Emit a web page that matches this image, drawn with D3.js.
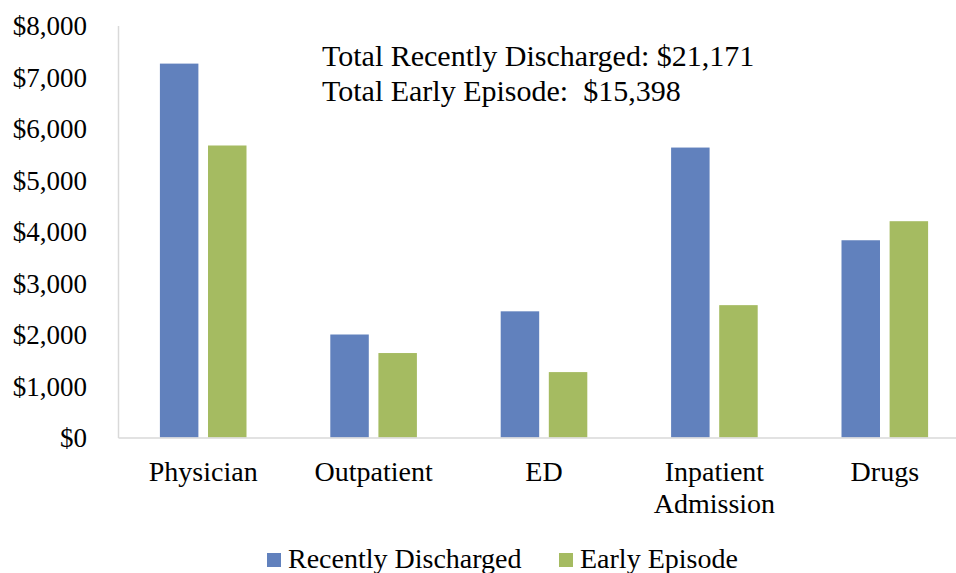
<!DOCTYPE html>
<html>
<head>
<meta charset="utf-8">
<script src="https://cdn.jsdelivr.net/npm/d3@7"></script>
<style>
  body { margin: 0; background: #fff; }
  svg { display: block; font-family: "Liberation Serif", "Times New Roman", serif; }
  .axis path { stroke: #d9d9d9; stroke-width: 1.5; }
  .axis text { fill: #000; font-family: "Liberation Serif", serif; }
</style>
</head>
<body>
<svg width="956" height="573"></svg>
<script>
// データ
const categories = ["Physician", "Outpatient", "ED", "Inpatient Admission", "Drugs"];
const seriesNames = ["Recently Discharged", "Early Episode"];
const recentlyDischarged = [7260, 2000, 2450, 5630, 3830];
const earlyEpisode = [5670, 1640, 1270, 2570, 4200];
const yTicks = [0, 1000, 2000, 3000, 4000, 5000, 6000, 7000, 8000];
const totalRecent = 21171;
const totalEarly = 15398;

const colors = { "Recently Discharged": "#6181bd", "Early Episode": "#a5bb61" };

const width = 956;
const height = 573;
const margin = { top: 25.5, left: 118, bottom: 135.5 };
const plotRight = 970; // 右側は画像外まで伸びる

const svg = d3.select("svg");

// スケール
const x0 = d3.scaleBand()
    .domain(categories)
    .range([margin.left, plotRight]);

const groupW = 86.6;
const x1 = d3.scaleBand()
    .domain(seriesNames)
    .range([x0.bandwidth() / 2 - groupW / 2, x0.bandwidth() / 2 + groupW / 2])
    .paddingInner(0.2);

const y = d3.scaleLinear()
    .domain([0, 8000])
    .range([height - margin.bottom, margin.top]);

// 棒
const rows = categories.map((c, i) => ({
    cat: c,
    values: [
        { name: seriesNames[0], value: recentlyDischarged[i] },
        { name: seriesNames[1], value: earlyEpisode[i] }
    ]
}));

const groups = svg.selectAll(".group")
    .data(rows)
    .enter().append("g")
    .attr("class", "group")
    .attr("transform", d => `translate(${x0(d.cat)},0)`);

groups.selectAll("rect")
    .data(d => d.values)
    .enter().append("rect")
    .attr("x", d => x1(d.name))
    .attr("width", x1.bandwidth())
    .attr("y", d => y(d.value))
    .attr("height", d => y(0) - y(d.value))
    .attr("fill", d => colors[d.name]);

// Y軸
svg.append("g")
    .attr("class", "axis")
    .attr("transform", `translate(${margin.left},0)`)
    .call(d3.axisLeft(y).tickValues(yTicks).tickSize(0).tickSizeOuter(0).tickPadding(31)
        .tickFormat(d => "$" + d3.format(",")(d)))
    .call(g => g.attr("font-family", null).attr("font-size", 27))
    .call(g => g.selectAll("text").attr("dy", "0.35em"));

// X軸
const xAxis = svg.append("g")
    .attr("class", "axis")
    .attr("transform", `translate(0,${y(0)})`)
    .call(d3.axisBottom(x0).tickSize(0).tickSizeOuter(0).tickPadding(0))
    .call(g => g.attr("font-family", null).attr("font-size", 28));

xAxis.selectAll("text").call(wrap, 150);

// ラベルの折り返し
function wrap(texts, maxW) {
    texts.each(function() {
        const t = d3.select(this);
        const words = t.text().split(" ");
        t.text(null);
        let line = [];
        let lineNo = 0;
        let tspan = t.append("tspan").attr("x", 0).attr("y", 43.5);
        words.forEach(w => {
            line.push(w);
            tspan.text(line.join(" "));
            if (tspan.node().getComputedTextLength() > maxW && line.length > 1) {
                line.pop();
                tspan.text(line.join(" "));
                line = [w];
                lineNo++;
                tspan = t.append("tspan").attr("x", 0).attr("y", 43.5 + lineNo * 32).text(w);
            }
        });
        t.attr("dy", null);
    });
}

// 合計の注記
const fmt = d3.format(",");
const note = svg.append("text")
    .attr("x", 322)
    .attr("y", 66)
    .attr("font-size", 30)
    .attr("fill", "#000");
note.append("tspan").attr("x", 322).attr("y", 66).text(`Total Recently Discharged: $${fmt(totalRecent)}`);
note.append("tspan").attr("x", 322).attr("y", 101).text(`Total Early Episode:  $${fmt(totalEarly)}`).attr("xml:space", "preserve");

// 凡例
const legendX = [267, 559];
const legend = svg.selectAll(".legend")
    .data(seriesNames)
    .enter().append("g")
    .attr("class", "legend")
    .attr("transform", (d, i) => `translate(${legendX[i]},553)`);

legend.append("rect")
    .attr("width", 14)
    .attr("height", 14)
    .attr("fill", d => colors[d]);

legend.append("text")
    .attr("x", 21)
    .attr("y", 15)
    .attr("font-size", 28)
    .attr("fill", "#000")
    .text(d => d);
</script>
</body>
</html>
